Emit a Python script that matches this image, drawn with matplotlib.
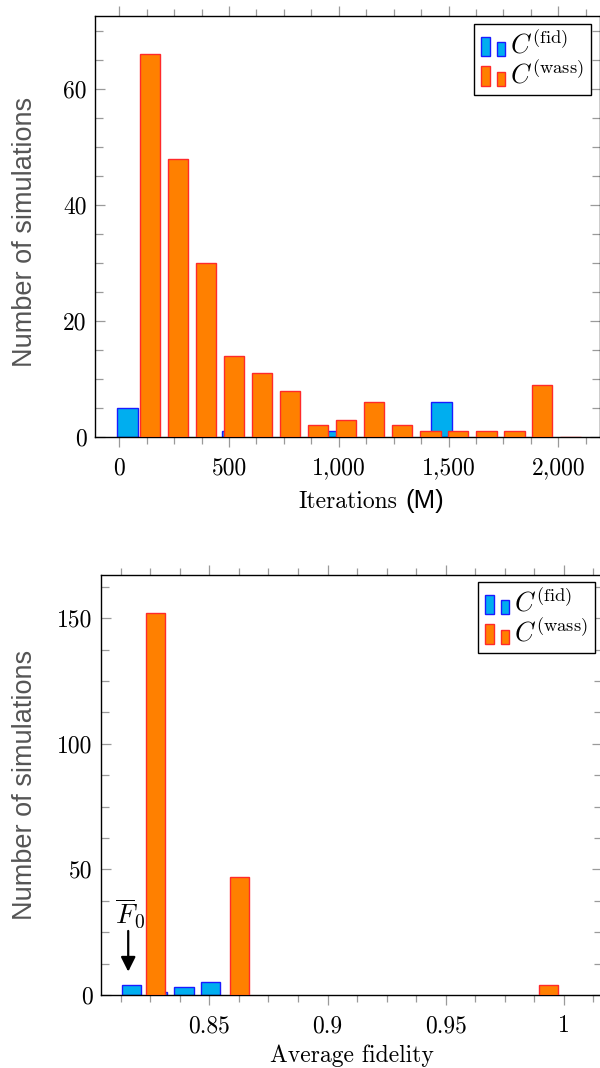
import numpy as np
import matplotlib
matplotlib.use('Agg')
import matplotlib.pyplot as plt
from matplotlib.patches import Rectangle
from matplotlib.container import BarContainer
from matplotlib.legend_handler import HandlerBase
from matplotlib.ticker import MultipleLocator, FuncFormatter

plt.rcParams['font.family'] = 'serif'
plt.rcParams['font.serif'] = ['cmr10']
plt.rcParams['mathtext.fontset'] = 'cm'
plt.rcParams['axes.unicode_minus'] = False

# --- data ---
# top panel: iterations until convergence (bin start, count)
iter_bins_fid = [88, 565, 1041, 1518]
iter_counts_fid = [5, 1, 1, 6]
iter_bins_wass = [89, 217, 344, 472, 600, 727, 855, 983, 1110, 1238, 1366, 1493, 1621, 1749, 1876, 2004]
iter_counts_wass = [66, 48, 30, 14, 11, 8, 2, 3, 6, 2, 1, 1, 1, 1, 9, 0]

# bottom panel: average fidelity reached
fid_bins_fid = [0.8222, 0.8333, 0.8445, 0.8556]
fid_counts_fid = [4, 1, 3, 5]
fid_bins_wass = [0.8221, 0.8577, 0.9882]
fid_counts_wass = [152, 47, 4]

f0_value = 0.8157

labels = [r'$C^{(\mathrm{fid})}$', r'$C^{(\mathrm{wass})}$']

blue_fill, blue_edge = '#00AEEF', '#1a1aff'
orange_fill, orange_edge = '#FF8000', '#ff2a2a'
tick_grey = '#9a9a9a'


class TwoBarHandler(HandlerBase):
    # pgfplots style ybar legend image: one tall bar, one shorter bar
    def create_artists(self, legend, orig_handle, xdescent, ydescent,
                       width, height, fontsize, trans):
        p = orig_handle.patches[0]
        fc, ec = p.get_facecolor(), p.get_edgecolor()
        x0, y0 = -xdescent, -ydescent - 0.1 * height
        r1 = Rectangle((x0, y0), width * 0.37, height, facecolor=fc,
                       edgecolor=ec, lw=1, transform=trans)
        r2 = Rectangle((x0 + width * 0.69, y0), width * 0.31, height * 0.73,
                       facecolor=fc, edgecolor=ec, lw=1, transform=trans)
        return [r1, r2]


def style_axes(ax, xmajor, xminor, ymajor, yminor):
    ax.xaxis.set_major_locator(MultipleLocator(xmajor))
    ax.xaxis.set_minor_locator(MultipleLocator(xminor))
    ax.yaxis.set_major_locator(MultipleLocator(ymajor))
    ax.yaxis.set_minor_locator(MultipleLocator(yminor))
    ax.tick_params(axis='x', which='both', direction='out', top=True, bottom=True,
                   color=tick_grey, width=0.9, labelsize=17, pad=7)
    ax.tick_params(axis='y', which='both', direction='in', left=True, right=True,
                   color=tick_grey, width=0.9, labelsize=17, pad=6)
    ax.tick_params(which='major', length=7.5)
    ax.tick_params(axis='x', which='minor', length=4.8)
    ax.tick_params(axis='y', which='minor', length=5.5)
    for s in ax.spines.values():
        s.set_linewidth(1.0)
        s.set_color('black')


def draw_hist(ax, bins_f, counts_f, bins_w, counts_w, width, shift):
    ax.bar(np.array(bins_f) - shift, counts_f, width=width, color=blue_fill,
           edgecolor=blue_edge, linewidth=1, label=labels[0], zorder=2)
    ax.bar(np.array(bins_w) + shift, counts_w, width=width, color=orange_fill,
           edgecolor=orange_edge, linewidth=1, label=labels[1], zorder=3)


def sans_ylabel(ax, xpos, ypos):
    ax.set_ylabel('Number of simulations', family='Liberation Sans', fontsize=19.5, color='#555555')
    ax.yaxis.set_label_coords(xpos, ypos)


def add_legend(ax, right, top):
    leg = ax.legend(handler_map={BarContainer: TwoBarHandler()}, loc='upper right',
                    bbox_to_anchor=(right / 600, 1 - top / 1068), bbox_transform=fig.transFigure,
                    fontsize=19, fancybox=False, edgecolor='black', framealpha=1,
                    handlelength=0.9, handleheight=0.75, handletextpad=0.22,
                    borderpad=0.25, labelspacing=0.06, borderaxespad=0)
    leg.get_frame().set_linewidth(1.0)
    return leg


fig = plt.figure(figsize=(6, 10.68), dpi=100)

# top panel
ax1 = fig.add_axes([95 / 600, 1 - 437 / 1068, 505 / 600, 421 / 1068])
draw_hist(ax1, iter_bins_fid, iter_counts_fid, iter_bins_wass, iter_counts_wass, 93, 51)
ax1.set_xlim(-110.7, 2190)
ax1.set_ylim(0, 72.6)
style_axes(ax1, 500, 125, 20, 5)
ax1.xaxis.set_major_formatter(FuncFormatter(lambda v, p: '{:,}'.format(int(round(v)))))
sans_ylabel(ax1, -0.113, 0.487)
add_legend(ax1, 591, 24)
fig.text(397 / 600, 1 - 502 / 1068, 'Iterations', fontsize=17, ha='right', va='center')
fig.text(405 / 600, 1 - 501 / 1068, '(M)', family='Liberation Sans', fontsize=18.5,
         ha='left', va='center')

# bottom panel
ax2 = fig.add_axes([101 / 600, 1 - 995 / 1068, 501 / 600, 420 / 1068])
draw_hist(ax2, fid_bins_fid, fid_counts_fid, fid_bins_wass, fid_counts_wass, 0.0082, 0.00516)
ax2.set_xlim(0.80419, 1.0161)
ax2.set_ylim(0, 167.2)
style_axes(ax2, 0.05, 0.0125, 50, 12.5)
ax2.xaxis.set_major_formatter(FuncFormatter(lambda v, p: '{:g}'.format(round(v, 4))))
sans_ylabel(ax2, -0.126, 0.5)
ax2.set_xlabel('Average fidelity', fontsize=17, labelpad=5)
add_legend(ax2, 595, 582)

ax2.annotate('', xy=(f0_value, 9.3), xytext=(f0_value, 25.5),
             arrowprops=dict(arrowstyle='-|>', color='black', lw=1.6, mutation_scale=22,
                             shrinkA=0, shrinkB=0))
ax2.text(f0_value + 0.0006, 26.0, r'$\overline{F}_0$', fontsize=20, ha='center', va='bottom')

fig.savefig('out.png', dpi=100)
